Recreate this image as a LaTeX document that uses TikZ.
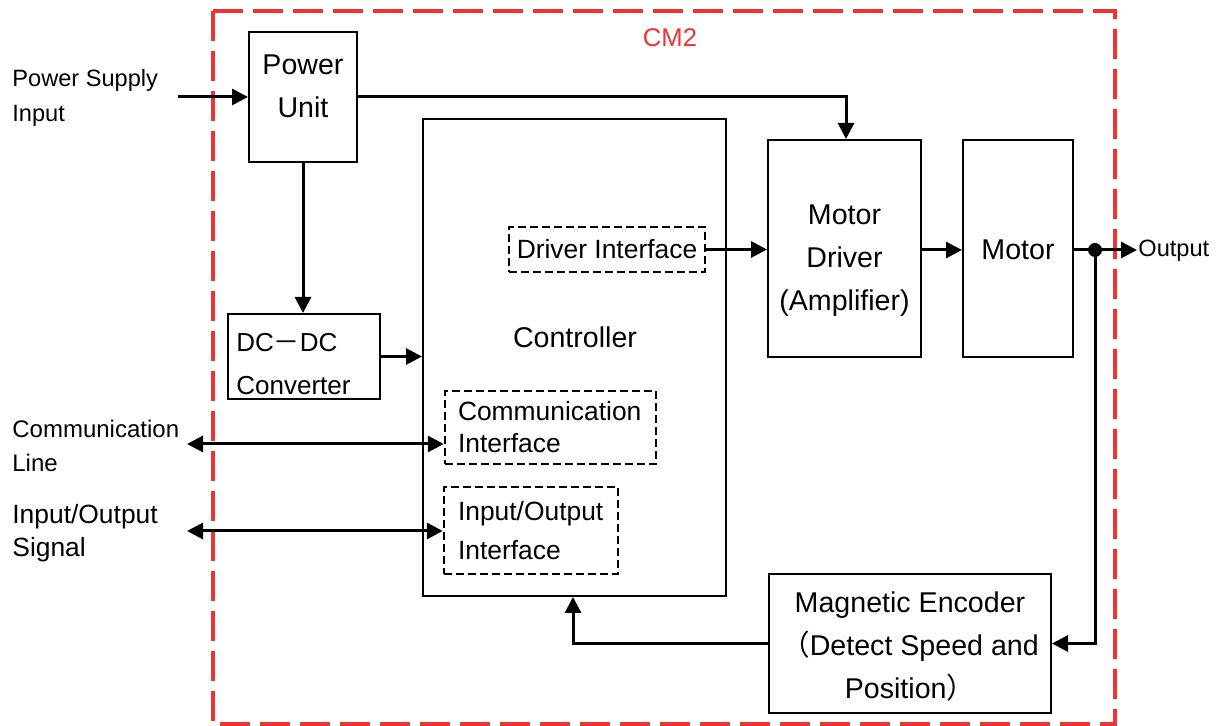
\documentclass[tikz,border=0pt]{standalone}
\usepackage{fontspec}
\setmainfont{Liberation Sans}
\newfontfamily\cjk{Noto Sans CJK SC}
\usetikzlibrary{arrows.meta,calc}
\definecolor{cmred}{RGB}{238,51,51}
\begin{document}
\begin{tikzpicture}[x=0.5pt,y=-0.5pt,
 blk/.style={draw=black,line width=1pt,inner sep=0pt},
 txt/.style={inner sep=0pt,align=center,font=\fontsize{14.3}{21.5}\selectfont},
 ifc/.style={draw=black,line width=1.2pt,dash pattern=on 4pt off 2pt,inner ysep=0pt,align=left,font=\fontsize{13.2}{16}\selectfont},
 conn/.style={line width=1.5pt,-{Triangle[length=8pt,width=8pt]}},
 bconn/.style={line width=1.5pt,{Triangle[length=8pt,width=8pt]}-{Triangle[length=8pt,width=8pt]}},
 lbl/.style={inner sep=0pt,align=left,anchor=west}
]
\useasboundingbox (0,0) rectangle (1222,726);
% outer red dashed frame
\draw[cmred,line width=2pt,dash pattern=on 15pt off 5pt] (213,11) rectangle (1115,724);
\node[text=cmred,font=\fontsize{12.8}{15}\selectfont,inner sep=0pt] (cm2) at (670,38) {CM2};

% blocks
\node[blk,minimum width=54pt,minimum height=65pt] (pu) at (303,97) {};
\node[txt] (putext) at (303,86) {Power\\Unit};
\node[blk,minimum width=76pt,minimum height=42.5pt] (dc) at (304,356.5) {};
\node[txt,align=left,anchor=west,font=\fontsize{13}{21.5}\selectfont] (dctext) at (236,364) {DC{\cjk －}DC\\Converter};
\node[blk,minimum width=151.5pt,minimum height=238.5pt] (ctrl) at (574.5,357.5) {};
\node[txt] (ctrltext) at (575,337) {Controller};
\node[ifc,minimum width=98pt,minimum height=22.5pt,align=center,inner xsep=0pt] (di) at (607,249.5) {Driver Interface};
\node[blk,minimum width=76.5pt,minimum height=108.5pt] (drv) at (844.5,248.5) {};
\node[txt] (drvtext) at (844.5,261) {Motor\\Driver\\(Amplifier)};
\node[blk,minimum width=55pt,minimum height=108.5pt] (mot) at (1018,248.5) {};
\node[txt] (mottext) at (1018,250) {Motor};
\node[blk,minimum width=141pt,minimum height=69.5pt] (enc) at (910,643.5) {};
\node[txt] (enctext) at (910,646.5) {Magnetic Encoder\\{\cjk （}Detect Speed and\\Position{\cjk ）}};
\node[ifc,minimum width=105.5pt,minimum height=36.5pt,inner xsep=6.5pt,text width=92.5pt] (ci) at (550.5,427.5) {Communication\\Interface};
\node[ifc,minimum width=87pt,minimum height=43.5pt,inner xsep=7pt,text width=73pt,font=\fontsize{13.2}{19.5}\selectfont] (ioi) at (531,530.5) {Input/Output\\Interface};

% external labels
\node[lbl,font=\fontsize{11.8}{17.5}\selectfont] (psl) at (12,98) {Power Supply\\Input};
\node[lbl,font=\fontsize{12}{17}\selectfont] (cll) at (12,445.5) {Communication\\Line};
\node[lbl,font=\fontsize{13.2}{16.5}\selectfont] (iol) at (12,533) {Input/Output\\Signal};
\node[lbl,font=\fontsize{11.8}{14}\selectfont] (outl) at (1138,251) {Output};

% connector end points
\coordinate (psin) at (178,97);
\coordinate (clin) at (187,444);
\coordinate (ioin) at (187,531);
\coordinate (jn) at (1095,250);
\coordinate (outp) at (1137,250);

% connectors
\draw[conn] (psin) -- (pu.west);
\draw[conn] (pu.east) -| ($(drv.north)+(1.5,0)$);
\draw[conn] (pu.south) -- (pu.south |- dc.north);
\draw[conn] (dc.east) -- (dc.east -| ctrl.west);
\draw[conn] (di.east) -- (di.east -| drv.west);
\draw[conn] ($(drv.east)+(0,1.5)$) -- ($(mot.west)+(0,1.5)$);
\draw[conn] (mot.east |- jn) -- (outp);
\fill (jn) circle (3.5pt);
\draw[conn] (jn) |- (enc.east);
\draw[conn] (enc.west) -| ($(ctrl.south)+(-1.5,0)$);
\draw[bconn] (clin) -- (clin -| ci.west);
\draw[bconn] (ioin) -- (ioin -| ioi.west);
\end{tikzpicture}
\end{document}
